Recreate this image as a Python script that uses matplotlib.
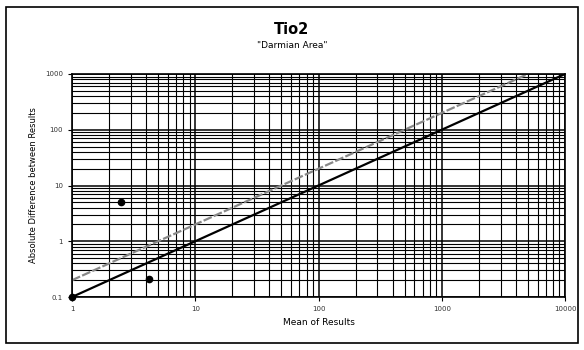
import numpy as np
import matplotlib.pyplot as plt
from matplotlib.patches import Rectangle
from matplotlib.ticker import LogLocator, FixedLocator, NullFormatter

# data
mean_results = [1, 2.5, 4.2]
abs_diff = [0.1, 5.0, 0.21]
line10_x = [1, 10000]
line10_y = [0.1, 1000]
line20_x = [1, 5000]
line20_y = [0.2, 1000]
x_ticks = [1, 10, 100, 1000, 10000]
x_labels = ['1', '10', '100', '1000', '10000']
y_ticks = [0.1, 1, 10, 100, 1000]
y_labels = ['0.1', '1', '10', '100', '1000']

fig = plt.figure(figsize=(5.84, 3.5), dpi=100)
ax = fig.add_axes([72 / 584, 1 - 297 / 350, (565 - 72) / 584, (297 - 74) / 350])

ax.set_xscale('log')
ax.set_yscale('log')
ax.set_xlim(1, 10000)
ax.set_ylim(0.1, 1000)

ax.xaxis.set_major_locator(FixedLocator(x_ticks))
ax.yaxis.set_major_locator(FixedLocator(y_ticks))
ax.set_xticklabels(x_labels)
ax.set_yticklabels(y_labels)
ax.xaxis.set_minor_locator(LogLocator(base=10, subs=np.arange(2, 10), numticks=20))
ax.yaxis.set_minor_locator(LogLocator(base=10, subs=np.arange(2, 10), numticks=20))
ax.xaxis.set_minor_formatter(NullFormatter())
ax.yaxis.set_minor_formatter(NullFormatter())

ax.grid(True, which='major', color='black', linewidth=1.1)
ax.grid(True, which='minor', color='black', linewidth=0.8)
ax.set_axisbelow(True)
for s in ax.spines.values():
    s.set_color('black')
    s.set_linewidth(1.2)

ax.tick_params(axis='both', which='major', labelsize=5, length=3, color='black',
               labelcolor='#333333')
ax.tick_params(axis='both', which='minor', length=0)

ax.plot(line20_x, line20_y, color='#888888', linestyle='--', linewidth=1.6, dashes=(4, 1))
ax.plot(line10_x, line10_y, color='black', linewidth=1.6)
ax.plot(mean_results, abs_diff, linestyle='none', marker='o', markersize=4.5,
        color='black', clip_on=False, zorder=5)

ax.set_xlabel('Mean of Results', fontsize=6.5, labelpad=4)
ax.set_ylabel('Absolute Difference between Results', fontsize=6, labelpad=5)

fig.text(0.5, 1 - 29 / 350, 'Tio2', ha='center', va='center', fontsize=10.5, fontweight='bold')
fig.text(0.5, 1 - 45 / 350, '"Darmian Area"', ha='center', va='center', fontsize=6.5)

# outer chart border
fig.patches.append(Rectangle((6 / 584, 1 - 343 / 350), (578 - 6) / 584, (343 - 7) / 350,
                             transform=fig.transFigure, fill=False,
                             edgecolor='black', linewidth=1.2))

fig.savefig('out.png', dpi=100)
